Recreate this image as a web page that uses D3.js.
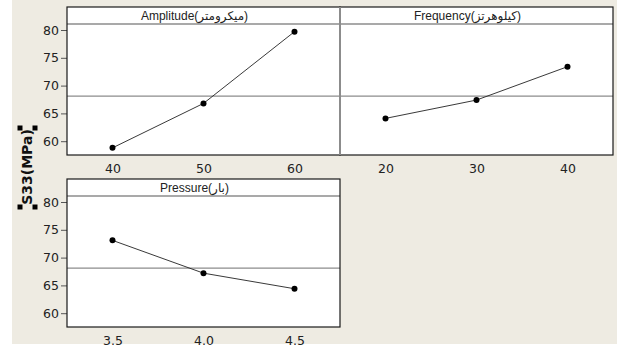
<!DOCTYPE html>
<html>
<head>
<meta charset="utf-8">
<script src="https://cdn.jsdelivr.net/npm/d3@7"></script>
<style>
  body { margin: 0; background: #fff; }
  svg text { font-family: "DejaVu Sans", sans-serif; }
</style>
</head>
<body>
<svg id="chart"></svg>
<script>
// main effects plot data
const panelTitles = ["Amplitude(میکرومتر)", "Frequency(کیلوهرتز)", "Pressure(بار)"];
const amplitudeLevels = [40, 50, 60];
const amplitudeMeans = [58.8, 66.8, 79.7];
const frequencyLevels = [20, 30, 40];
const frequencyMeans = [64.1, 67.4, 73.4];
const pressureLevels = [3.5, 4.0, 4.5];
const pressureMeans = [73.1, 67.2, 64.4];
const xDomains = [[35, 65], [15, 45], [3.25, 4.75]];
const xTickLabels = [["40", "50", "60"], ["20", "30", "40"], ["3.5", "4.0", "4.5"]];
const yTicks = [60, 65, 70, 75, 80];
const grandMean = 68.1;
const yLabel = "S33(MPa)";

const W = 617, H = 354;
const svg = d3.select("#chart").attr("width", W).attr("height", H);

svg.append("rect")
  .attr("x", 12).attr("y", 0)
  .attr("width", W - 12).attr("height", 344)
  .attr("fill", "#eeebe2");

// panel boxes: x, y, width, height
const panelW = 273, panelH = 148, stripH = 17;
const panelPos = [[67, 7], [340, 7], [67, 179]];
const panelData = [
  { levels: amplitudeLevels, means: amplitudeMeans },
  { levels: frequencyLevels, means: frequencyMeans },
  { levels: pressureLevels, means: pressureMeans }
];

panelData.forEach((pd, i) => {
  const [px, py] = panelPos[i];
  const g = svg.append("g").attr("transform", `translate(${px},${py})`);

  const x = d3.scaleLinear().domain(xDomains[i]).range([0, panelW]);
  const y = d3.scaleLinear().domain([60, 80]).range([134.2, 23]);

  g.append("rect")
    .attr("width", panelW).attr("height", panelH)
    .attr("fill", "#fff");

  // strip line + reference line
  g.append("line")
    .attr("x1", 0).attr("x2", panelW)
    .attr("y1", stripH).attr("y2", stripH)
    .attr("stroke", "#8c8c8c").attr("stroke-width", 1.3);

  g.append("line")
    .attr("x1", 0).attr("x2", panelW)
    .attr("y1", y(grandMean)).attr("y2", y(grandMean))
    .attr("stroke", "#8c8c8c").attr("stroke-width", 1.3);

  g.append("text")
    .attr("x", panelW / 2 - 9).attr("y", 13)
    .attr("text-anchor", "middle")
    .attr("font-size", "12px")
    .attr("fill", "#222")
    .style("font-family", "'Liberation Sans', 'DejaVu Sans', sans-serif")
    .text(panelTitles[i]);

  const pts = pd.levels.map((l, k) => [l, pd.means[k]]);

  g.append("path")
    .datum(pts)
    .attr("fill", "none")
    .attr("stroke", "#222")
    .attr("stroke-width", 0.9)
    .attr("d", d3.line().x(d => x(d[0])).y(d => y(d[1])));

  g.selectAll("circle.pt")
    .data(pts)
    .join("circle")
    .attr("class", "pt")
    .attr("cx", d => x(d[0]))
    .attr("cy", d => y(d[1]))
    .attr("r", 3)
    .attr("fill", "#000");

  // x axis, labels only
  const xAxis = d3.axisBottom(x)
    .tickValues(pd.levels)
    .tickFormat((d, k) => xTickLabels[i][k])
    .tickSize(0)
    .tickPadding(9);
  const xg = g.append("g")
    .attr("transform", `translate(0,${panelH})`)
    .call(xAxis);
  xg.select(".domain").remove();
  xg.selectAll("text")
    .attr("font-size", "12.5px")
    .attr("fill", "#222")
    .style("font-family", "'DejaVu Sans', sans-serif");

  // y axis only for left column
  if (px === 67) {
    const yg = g.append("g")
      .call(d3.axisLeft(y).tickValues(yTicks).tickSize(6).tickPadding(2).tickSizeOuter(0));
    yg.select(".domain").remove();
    yg.selectAll("line").attr("stroke", "#555");
    yg.selectAll("text")
      .attr("font-size", "12.5px")
      .attr("fill", "#222")
      .style("font-family", "'DejaVu Sans', sans-serif");
  }

  // frame
  g.append("rect")
    .attr("width", panelW).attr("height", panelH)
    .attr("fill", "none")
    .attr("stroke", "#1a1a1a")
    .attr("stroke-width", 1.2);
});

// the divider between the two top panels is grey in the picture
svg.append("line")
  .attr("x1", 340).attr("x2", 340)
  .attr("y1", 7).attr("y2", 155)
  .attr("stroke", "#8c8c8c").attr("stroke-width", 2);

// y axis title with selection handles
const labelX = 27, labelY = 167;
svg.append("text")
  .attr("transform", `translate(${labelX},${labelY}) rotate(-90)`)
  .attr("text-anchor", "middle")
  .attr("dy", "0.35em")
  .attr("font-size", "14px")
  .attr("font-weight", "bold")
  .attr("fill", "#111")
  .text(yLabel);

const handles = [[20, 128], [35, 128], [20, 207], [35, 207]];
svg.selectAll("rect.handle")
  .data(handles)
  .join("rect")
  .attr("class", "handle")
  .attr("x", d => d[0] - 2.5)
  .attr("y", d => d[1] - 2.5)
  .attr("width", 5).attr("height", 5)
  .attr("fill", "#000");
</script>
</body>
</html>
